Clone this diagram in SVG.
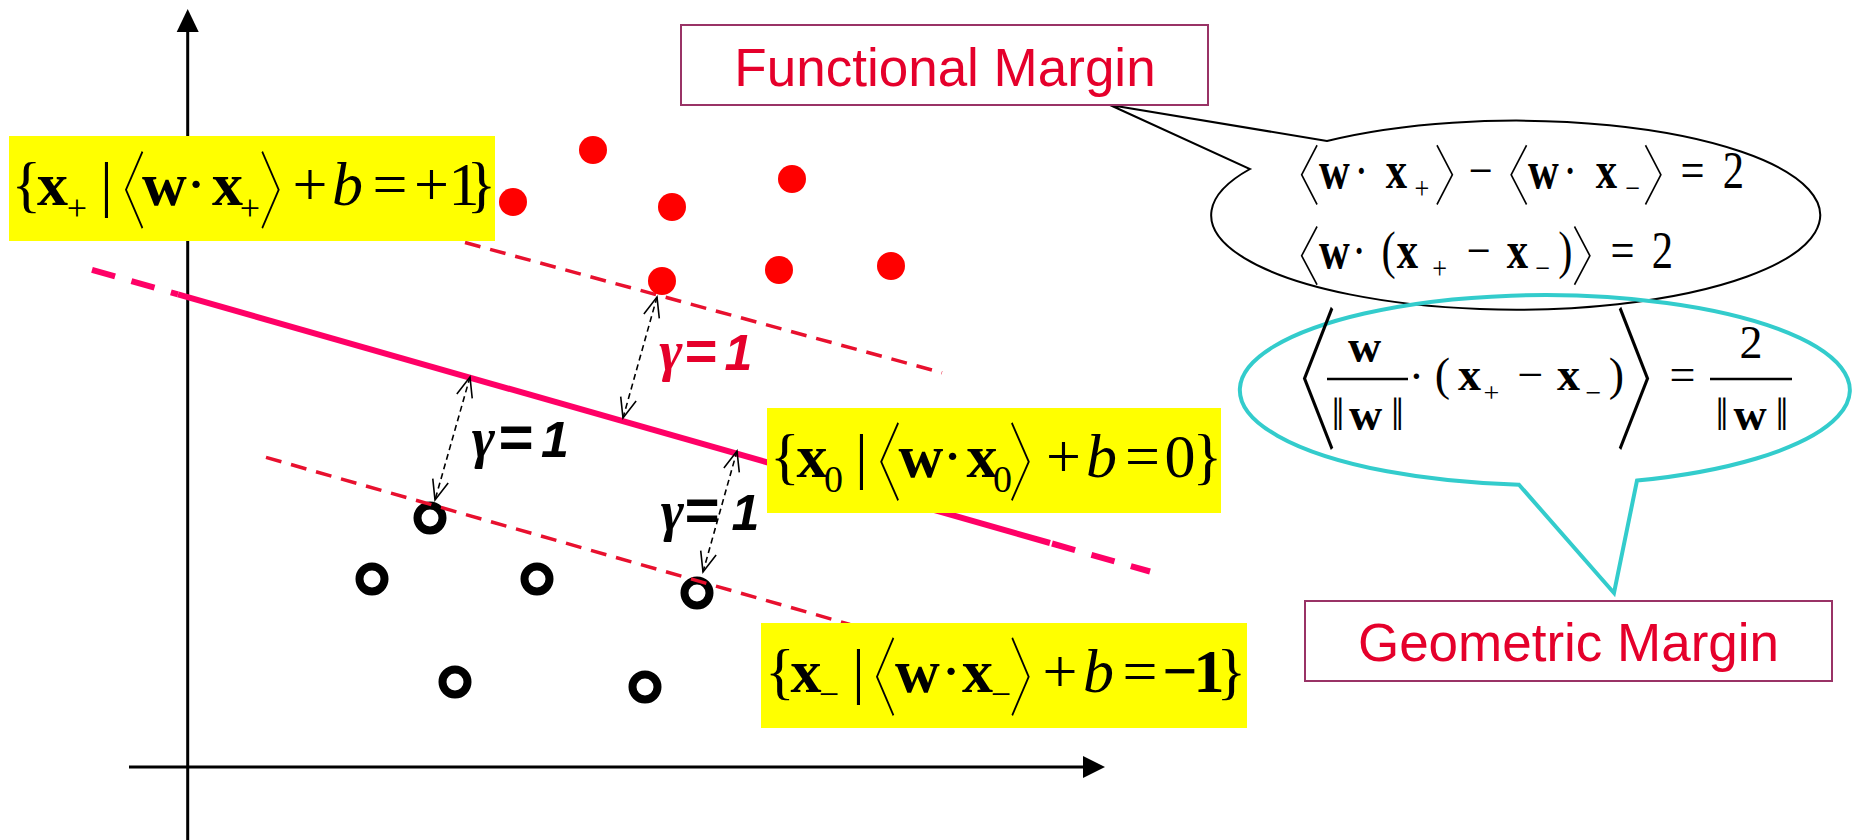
<svg xmlns="http://www.w3.org/2000/svg" width="1853" height="840" viewBox="0 0 1853 840">
<style>
.eq{font-family:"Liberation Serif","DejaVu Serif",serif;text-anchor:middle;fill:#000}
.b{font-weight:bold}
.i{font-style:italic}
.br{font-family:"Noto Sans CJK JP","Noto Sans CJK SC",sans-serif;font-weight:100;font-size:40px;text-anchor:middle;fill:#000}
.yb{fill:#FFFF00}
.lbl{font-family:"Liberation Sans",Arial,sans-serif;font-size:53px;fill:#E5002B;text-anchor:middle}
.lbox{fill:#fff;stroke:#993366;stroke-width:2}
.gam{font-family:"Liberation Sans",Arial,sans-serif;font-weight:bold;font-style:italic;font-size:50px;text-anchor:middle}
.gg{font-family:"Liberation Serif",serif;font-style:italic;font-weight:bold;font-size:56px}
.eqs{font-size:60px}
.axis{stroke:#000;stroke-width:3;fill:none}
.mline{stroke:#FF0066;stroke-width:6;fill:none}
.dline{stroke:#E8102E;stroke-width:3.5;stroke-dasharray:16 10;fill:none}
.marr{stroke:#000;stroke-width:1.6;stroke-dasharray:6 4;fill:none;marker-start:url(#oa);marker-end:url(#oa)}
.pos{fill:#FF0000}
.neg{fill:none;stroke:#000;stroke-width:8}
</style>
<defs>
<marker id="oa" markerUnits="userSpaceOnUse" markerWidth="26" markerHeight="22" viewBox="0 0 26 22" refX="23" refY="11" orient="auto-start-reverse">
<path d="M3,3 L23,11 L3,19" fill="none" stroke="#000" stroke-width="1.6"/>
</marker>
</defs>

<g id="axes">
<line class="axis" x1="187.7" y1="30" x2="187.7" y2="840"/>
<polygon points="187.7,9 176.7,32 198.7,32" fill="#000"/>
<line class="axis" x1="129" y1="767" x2="1086" y2="767"/>
<polygon points="1105,767 1083,756 1083,778" fill="#000"/>
</g>

<g id="neg-points">
<circle class="neg" cx="430" cy="518" r="12.5"/>
<circle class="neg" cx="372" cy="579" r="12.5"/>
<circle class="neg" cx="537" cy="579" r="12.5"/>
<circle class="neg" cx="697" cy="593" r="12.5"/>
<circle class="neg" cx="455" cy="682" r="12.5"/>
<circle class="neg" cx="645" cy="687" r="12.5"/>
</g>

<g id="connectors">
<line class="dline" x1="465" y1="242.5" x2="942" y2="372.7"/>
<line class="dline" x1="266" y1="457.4" x2="850" y2="624.4"/>
<line class="mline" x1="178" y1="294.4" x2="1050" y2="543"/>
<line class="mline" stroke-dasharray="24 17" x1="92" y1="269.9" x2="178" y2="294.4"/>
<line class="mline" stroke-dasharray="24 17" x1="1052" y1="543.5" x2="1150" y2="571.5"/>
<line class="marr" x1="470" y1="377" x2="435" y2="500"/>
<line class="marr" x1="657" y1="297" x2="623" y2="418"/>
<line class="marr" x1="737" y1="451" x2="703" y2="572"/>
</g>

<g id="pos-points">
<circle class="pos" cx="513" cy="202" r="14"/>
<circle class="pos" cx="593" cy="150" r="14"/>
<circle class="pos" cx="672" cy="207" r="14"/>
<circle class="pos" cx="792" cy="179" r="14"/>
<circle class="pos" cx="662" cy="281" r="14"/>
<circle class="pos" cx="779" cy="270" r="14"/>
<circle class="pos" cx="891" cy="266" r="14"/>
</g>

<g id="gamma-labels">
<text class="gam" y="457" fill="#000"><tspan class="gg" x="483.5" y="457">γ</tspan><tspan class="eqs" x="515" y="457">=</tspan><tspan x="555" y="457">1</tspan></text>
<text class="gam" y="530" fill="#000"><tspan class="gg" x="672.5" y="530">γ</tspan><tspan class="eqs" x="701" y="530">=</tspan><tspan x="745.5" y="530">1</tspan></text>
<text class="gam" y="370" fill="#E5002B" font-size="47"><tspan class="gg" font-size="52" x="671" y="370">γ</tspan><tspan font-size="56" x="700" y="370">=</tspan><tspan x="738.5" y="370">1</tspan></text>
</g>

<g id="eq-plus">
<rect class="yb" x="9" y="136" width="486" height="105"/>
<text class="eq" font-size="62" y="205"><tspan x="26.5" y="205">{</tspan><tspan class="b" x="52.5" y="205">x</tspan><tspan x="77" y="220" font-size="36">+</tspan><tspan x="106.5" y="205">|</tspan><tspan class="b" x="164.5" y="205">w</tspan><tspan x="196" y="205">·</tspan><tspan class="b" x="227.5" y="205">x</tspan><tspan x="250" y="220" font-size="36">+</tspan><tspan x="310" y="205">+</tspan><tspan class="i" x="347.5" y="205">b</tspan><tspan x="390" y="205">=</tspan><tspan x="431.5" y="205">+</tspan><tspan x="464" y="205">1</tspan><tspan x="481.5" y="205">}</tspan></text>
<text class="br" transform="translate(129.5,190) scale(1.36,2.11)" x="-8" y="15.2">〈</text>
<text class="br" transform="translate(275,190) scale(1.36,2.11)" x="8" y="15.2">〉</text>
</g>

<g id="eq-zero">
<rect class="yb" x="767" y="408" width="454" height="105"/>
<text class="eq" font-size="62" y="477"><tspan x="785" y="477">{</tspan><tspan class="b" x="812" y="477">x</tspan><tspan x="833.5" y="492" font-size="38">0</tspan><tspan x="861.5" y="477">|</tspan><tspan class="b" x="921" y="477">w</tspan><tspan x="952.5" y="477">·</tspan><tspan class="b" x="982" y="477">x</tspan><tspan x="1002.5" y="492" font-size="38">0</tspan><tspan x="1063.5" y="477">+</tspan><tspan class="i" x="1101.5" y="477">b</tspan><tspan x="1142.5" y="477">=</tspan><tspan x="1180" y="477">0</tspan><tspan x="1207.5" y="477">}</tspan></text>
<text class="br" transform="translate(885,461.5) scale(1.4,2.14)" x="-8" y="15.2">〈</text>
<text class="br" transform="translate(1025,461.5) scale(1.4,2.14)" x="8" y="15.2">〉</text>
</g>

<g id="eq-minus">
<rect class="yb" x="761" y="623" width="486" height="105"/>
<text class="eq" font-size="62" y="692"><tspan x="780" y="692">{</tspan><tspan class="b" x="806" y="692">x</tspan><tspan x="829" y="706" font-size="36">−</tspan><tspan x="858.5" y="692">|</tspan><tspan class="b" x="917.5" y="692">w</tspan><tspan x="951" y="692">·</tspan><tspan class="b" x="977.5" y="692">x</tspan><tspan x="1001" y="706" font-size="36">−</tspan><tspan x="1060" y="692">+</tspan><tspan class="i" x="1098.5" y="692">b</tspan><tspan x="1140" y="692">=</tspan><tspan class="b" x="1180" y="692">−</tspan><tspan class="b" x="1209" y="692">1</tspan><tspan x="1231.5" y="692">}</tspan></text>
<text class="br" transform="translate(880.5,676.5) scale(1.36,2.14)" x="-8" y="15.2">〈</text>
<text class="br" transform="translate(1025,676.5) scale(1.36,2.14)" x="8" y="15.2">〉</text>
</g>

<g id="callout-functional">
<path d="M1327,141 L1110,105 L1250,169 A304.5,94.5 0 1 0 1327,141 Z" fill="none" stroke="#000" stroke-width="2"/>
<text class="eq" font-size="52" transform="translate(1298,0) scale(0.82,1) translate(-1298,0)"><tspan class="b" x="1342.5" y="188">w</tspan><tspan x="1375.4" y="188">·</tspan><tspan class="b" x="1418.1" y="188">x</tspan><tspan x="1449.2" y="199" font-size="32">+</tspan><tspan x="1520.6" y="188">−</tspan><tspan class="b" x="1597.4" y="188">w</tspan><tspan x="1629.7" y="188">·</tspan><tspan class="b" x="1674.2" y="188">x</tspan><tspan x="1705.9" y="199" font-size="32">−</tspan><tspan x="1779.1" y="188">=</tspan><tspan x="1829.1" y="188">2</tspan></text>
<text class="br" transform="translate(1305,175.5) scale(1.27,1.64)" x="-8" y="15.2">〈</text>
<text class="br" transform="translate(1449,175.5) scale(1.27,1.64)" x="8" y="15.2">〉</text>
<text class="br" transform="translate(1514.5,175.5) scale(1.27,1.64)" x="-8" y="15.2">〈</text>
<text class="br" transform="translate(1657.5,175.5) scale(1.27,1.64)" x="8" y="15.2">〉</text>
<text class="eq" font-size="52" transform="translate(1298,0) scale(0.82,1) translate(-1298,0)"><tspan class="b" x="1342.5" y="268">w</tspan><tspan x="1372.4" y="268">·</tspan><tspan x="1408.4" y="268">(</tspan><tspan class="b" x="1431.5" y="268">x</tspan><tspan x="1470.6" y="279" font-size="32">+</tspan><tspan x="1518.1" y="268">−</tspan><tspan class="b" x="1565.7" y="268">x</tspan><tspan x="1596.2" y="279" font-size="32">−</tspan><tspan x="1624.2" y="268">)</tspan><tspan x="1693.7" y="268">=</tspan><tspan x="1742.5" y="268">2</tspan></text>
<text class="br" transform="translate(1305,256) scale(1.27,1.61)" x="-8" y="15.2">〈</text>
<text class="br" transform="translate(1586.5,256) scale(1.27,1.61)" x="8" y="15.2">〉</text>
</g>

<g id="callout-geometric">
<path d="M1519,484.7 L1614,593 L1637,480.6 A305,95 0 1 0 1519,484.7 Z" fill="none" stroke="#33CCCC" stroke-width="4"/>
<text class="eq" font-size="46"><tspan class="b" x="1364.5" y="362">w</tspan><tspan x="1338" y="430">‖</tspan><tspan class="b" x="1365.5" y="430">w</tspan><tspan x="1397.5" y="430">‖</tspan><tspan x="1416.5" y="392">·</tspan><tspan x="1442.5" y="390">(</tspan><tspan class="b" x="1469.5" y="390">x</tspan><tspan x="1491.5" y="402" font-size="28">+</tspan><tspan x="1530.5" y="390">−</tspan><tspan class="b" x="1568.5" y="390">x</tspan><tspan x="1593.5" y="402" font-size="28">−</tspan><tspan x="1616.5" y="390">)</tspan><tspan x="1682.5" y="390">=</tspan><tspan x="1751" y="358">2</tspan><tspan x="1722" y="430">‖</tspan><tspan class="b" x="1750" y="430">w</tspan><tspan x="1782" y="430">‖</tspan></text>
<line x1="1327" y1="379" x2="1408" y2="379" stroke="#000" stroke-width="2.5"/>
<line x1="1710" y1="379" x2="1792" y2="379" stroke="#000" stroke-width="2.5"/>
<text class="br" transform="translate(1310.5,378) scale(2.27,3.89)" x="-8" y="15.2">〈</text>
<text class="br" transform="translate(1641.5,378) scale(2.27,3.89)" x="8" y="15.2">〉</text>
</g>

<g id="functional-margin">
<rect class="lbox" x="681" y="25" width="527" height="80"/>
<text class="lbl" x="945" y="86">Functional Margin</text>
</g>

<g id="geometric-margin">
<rect class="lbox" x="1305" y="601" width="527" height="80"/>
<text class="lbl" x="1568.5" y="661">Geometric Margin</text>
</g>
</svg>
